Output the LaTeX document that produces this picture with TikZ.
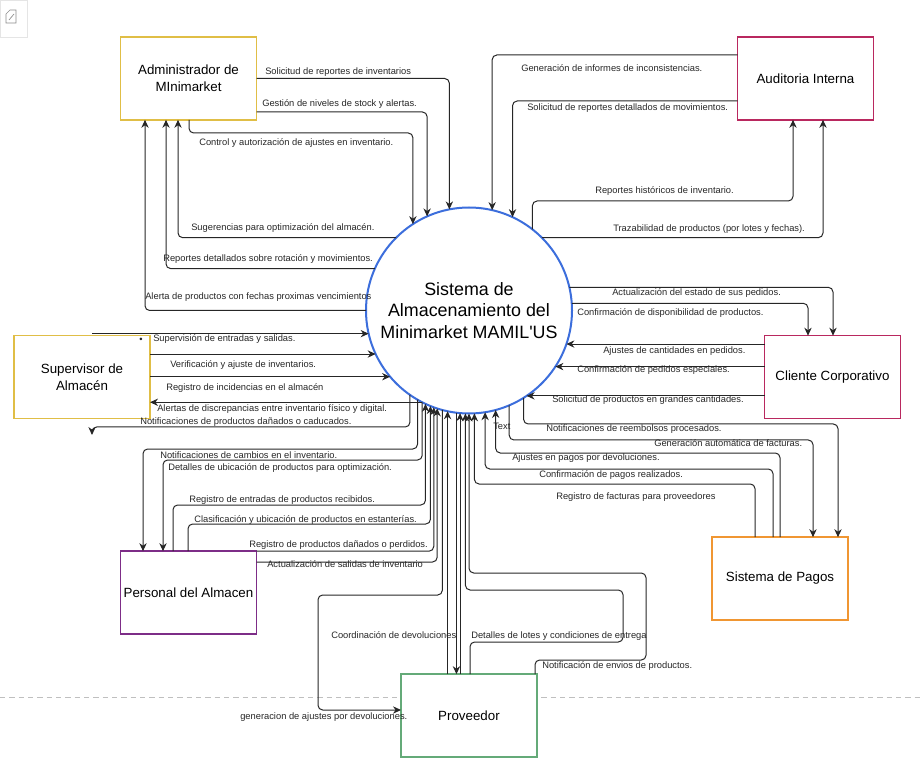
\documentclass[tikz,border=0pt]{standalone}
\usepackage{fontspec}
\setmainfont{Liberation Sans}
\usetikzlibrary{arrows.meta}
\definecolor{yel}{RGB}{224,190,70}
\definecolor{pnk}{RGB}{185,40,95}
\definecolor{prp}{RGB}{125,45,135}
\definecolor{org}{RGB}{240,150,50}
\definecolor{grn}{RGB}{100,170,120}
\definecolor{sysblue}{RGB}{60,110,220}
\begin{document}
\begin{tikzpicture}[x=0.75pt,y=-0.75pt,
  box/.style={draw, line width=1.1pt, fill=white, inner sep=2pt, outer sep=0pt, align=center,
    font=\fontsize{10pt}{12.5pt}\selectfont, minimum width=102pt, minimum height=62pt},
  lbl/.style={font=\fontsize{7pt}{8pt}\selectfont, inner sep=0pt, anchor=west, text=black!85},
  fl/.style={draw=black!85, line width=0.75pt, rounded corners=3.5pt, -{Stealth[length=6pt,width=5.5pt]}}]
\useasboundingbox (0,0) rectangle (921,780);
% corner icon
\draw[black!10] (0,0) rectangle (27,37);
\draw[black!45, line width=0.5pt] (6,14) -- (10,10) -- (16,10) -- (16,23) -- (6,23) -- cycle;
\draw[black!45, line width=0.5pt] (9,20) -- (14,14);
% dashed guide
\draw[black!25, dash pattern=on 4pt off 3pt, line width=0.5pt] (0,697) -- (921,697);
% boxes
\node[box, draw=yel] (adm) at (188.5,78.5) {Administrador de\\MInimarket};
\node[box, draw=pnk] (aud) at (805.5,78.5) {Auditoria Interna};
\node[box, draw=yel] (sup) at (82,377) {Supervisor de\\Almacén};
\node[box, draw=pnk] (cli) at (832.5,377) {Cliente Corporativo};
\node[box, draw=prp] (per) at (188.5,592.5) {Personal del Almacen};
\node[box, draw=org] (pag) at (780,578.5) {Sistema de Pagos};
\node[box, draw=grn] (pro) at (469,715.5) {Proveedor};
\node[circle, draw=sysblue, line width=1.5pt, fill=white, minimum size=154.5pt, inner sep=0pt, outer sep=0pt,
  align=center, font=\fontsize{13.4pt}{16.1pt}\selectfont] (sys) at (469,310.5)
  {Sistema de\\Almacenamiento del\\Minimarket MAMIL\textquotesingle US};
% Administrador
\draw[fl] (adm.east) -| (sys.101.76);
\draw[fl] (adm.east |- 0,112) -| (sys.114.68);
\draw[fl] (adm.south -| 189,0) -- (189,133) -| (sys.123.6);
\draw[fl] (sys.135.26) -| (adm.south -| 178,0);
\draw[fl] (sys.156.24) -| (adm.south -| 166,0);
\draw[fl] (sys.180) -| (adm.south -| 145,0);
% Auditoria
\draw[fl] (aud.west |- 0,55) -| (sys.77.1);
\draw[fl] (aud.west |- 0,101) -| (sys.65.32);
\draw[fl] (sys.52.29) |- (700,201) -| (aud.south -| 793,0);
\draw[fl] (sys.45.53) -| (aud.south -| 823,0);
% Cliente
\draw[fl] (sys.13.76) -| (cli.north -| 833,0);
\draw[fl] (sys.4.18) -| (cli.north -| 808,0);
\draw[fl] (sys.-19.57 -| cli.west) -- (sys.-19.57);
\draw[fl] (sys.-33.94 -| cli.west) -- (sys.-33.94);
\draw[fl] (sys.-56.1 -| cli.west) -- (sys.-56.1);
% Pagos
\draw[fl] (sys.-58.38) |- (700,424) -| (pag.north -| 838,0);
\draw[fl] (sys.-67.15) |- (700,440) -| (pag.north -| 813,0);
\draw[fl] (pag.north -| 780,0) |- (600,453) -| (sys.-75.95);
\draw[fl] (pag.north -| 773,0) |- (600,469) -| (sys.-81.63);
\draw[fl] (pag.north -| 755,0) |- (600,484) -| (sys.-87.22);
% Supervisor
\coordinate (c21) at (92,335);
\coordinate (c25) at (92,435);
\draw[fl] (c21 |- sys.193.76) -- (sys.193.76);
\draw[fl] (sys.205.6 -| sup.east) -- (sys.205.6);
\draw[fl] (sys.220.94 -| sup.east) -- (sys.220.94);
\draw[fl] (sys.243.9) -- (sys.243.9 -| sup.east);
\draw[fl] (sys.-125.62) |- (300,427) -| (c25);
% Personal
\draw[fl] (sys.-120.97) |- (300,449) -| (per.north -| 143,0);
\draw[fl] (sys.-117.78) |- (300,460) -| (per.north -| 163,0);
\draw[fl] (per.north -| 173,0) |- (300,505) -| (sys.-115.29);
\draw[fl] (per.north -| 188,0) |- (300,524) -| (sys.-112.25);
\draw[fl] (per.north east) -| (sys.-110.46);
\draw[fl] (per.east |- 0,562) -| (sys.-108.1);
\draw[fl] (sys.-105.77) |- (318,595) |- (pro.west |- 0,710);
% Proveedor
\draw[fl] (pro.north -| sys.-102.9) -- (sys.-102.9);
\draw[fl] (sys.-97.81) -- (sys.-97.81 |- pro.north);
\draw[fl] (pro.north -| sys.-95.01) -- (sys.-95.01);
\draw[fl] (pro.north -| 470,0) |- (623,642) -- (623,590) -| (sys.-92.23);
\draw[fl] (pro.north -| 535,0) |- (646,660) -- (646,573) -| (sys.-90);
% labels
\node[lbl] (l1) at (265,72) {Solicitud de reportes de inventarios};
\node[lbl] (l2) at (262,104) {Gestión de niveles de stock y alertas.};
\node[lbl] (l3) at (199,143) {Control y autorización de ajustes en inventario.};
\node[lbl] (l4) at (191,228) {Sugerencias para optimización del almacén.};
\node[lbl] (l5) at (163,259) {Reportes detallados sobre rotación y movimientos.};
\node[lbl] (l6) at (145,297) {Alerta de productos con fechas proximas vencimientos};
\node[lbl] (l7) at (521,68) {Generación de informes de inconsistencias.};
\node[lbl] (l8) at (527,108) {Solicitud de reportes detallados de movimientos.};
\node[lbl] (l9) at (595,191) {Reportes históricos de inventario.};
\node[lbl] (l10) at (613,229) {Trazabilidad de productos (por lotes y fechas).};
\node[lbl] (l11) at (612,293) {Actualización del estado de sus pedidos.};
\node[lbl] (l12) at (577,313) {Confirmación de disponibilidad de productos.};
\node[lbl] (l13) at (603,351) {Ajustes de cantidades en pedidos.};
\node[lbl] (l14) at (577,370) {Confirmación de pedidos especiales.};
\node[lbl] (l15) at (552,400) {Solicitud de productos en grandes cantidades.};
\node[lbl] (l16) at (546,429) {Notificaciones de reembolsos procesados.};
\node[lbl] (l17) at (654,443) {Generación automática de facturas.};
\node[lbl] (l18) at (512,458) {Ajustes en pagos por devoluciones.};
\node[lbl] (l19) at (539,475) {Confirmación de pagos realizados.};
\node[lbl] (l20) at (556,497) {Registro de facturas para proveedores};
\node[lbl] (lb) at (139,340) {•};
\node[lbl] (l21) at (153,339) {Supervisión de entradas y salidas.};
\node[lbl] (l22) at (170,365) {Verificación y ajuste de inventarios.};
\node[lbl] (l23) at (166,388) {Registro de incidencias en el almacén};
\node[lbl] (l24) at (157,409) {Alertas de discrepancias entre inventario físico y digital.};
\node[lbl] (l25) at (140,422) {Notificaciones de productos dañados o caducados.};
\node[lbl] (l26) at (160,455) {Notificaciones de cambios en el inventario.};
\node[lbl] (l27) at (168,468) {Detalles de ubicación de productos para optimización.};
\node[lbl] (l28) at (189,500) {Registro de entradas de productos recibidos.};
\node[lbl] (l29) at (194,520) {Clasificación y ubicación de productos en estanterías.};
\node[lbl] (l30) at (249,545) {Registro de productos dañados o perdidos.};
\node[lbl] (l31) at (267,564) {Actualización de salidas de inventario};
\node[lbl] (l32) at (331,635) {Coordinación de devoluciones};
\node[lbl] (l33) at (471,636) {Detalles de lotes y condiciones de entrega};
\node[lbl] (l34) at (542,666) {Notificación de envios de productos.};
\node[lbl] (l35) at (240,717) {generacion de ajustes por devoluciones.};
\node[lbl] (l36) at (493,426) {Text};
\end{tikzpicture}
\end{document}
